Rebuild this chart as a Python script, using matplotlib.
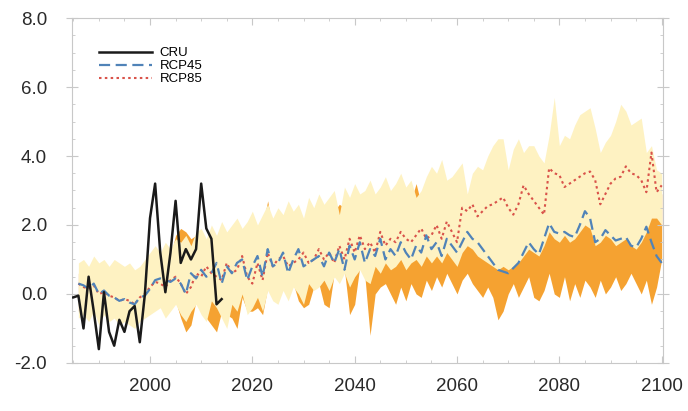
import numpy as np
import matplotlib
matplotlib.use("Agg")
from matplotlib import pyplot as plt
from matplotlib.ticker import MultipleLocator

# observed CRU anomalies, 1985-2014
cru_years = list(range(1985, 2015))
cru = [-0.1, -0.05, -1.0, 0.5, -0.5, -1.6, 0.05, -1.1, -1.5, -0.75,
       -1.1, -0.5, -0.35, -1.4, 0.0, 2.2, 3.2, 1.2, 0.05, 1.2,
       2.7, 0.9, 1.3, 1.0, 1.3, 3.2, 1.9, 1.6, -0.3, -0.15]

# model years 1986-2100
years = list(range(1986, 2101))

rcp45 = [0.3, 0.25, 0.15, 0.3, 0.0, 0.1, -0.05, -0.1, -0.2, -0.15,
         -0.25, -0.3, -0.1, -0.05, 0.15, 0.4, 0.45, 0.4, 0.35, 0.45,
         0.3, 0.0, 0.6, 0.45, 0.7, 0.5, 0.6, 0.9, 0.3, 0.8,
         0.6, 0.9, 1.0, 0.4, 0.8, 1.1, 0.5, 1.3, 0.8, 0.9,
         1.2, 0.6, 1.0, 1.3, 0.8, 0.9, 1.0, 1.1, 0.8, 1.2,
         0.9, 1.3, 0.7, 1.4, 1.0, 1.5, 0.9, 1.3, 1.1, 1.6,
         1.0, 1.3, 1.1, 1.5, 1.2, 1.0, 1.4, 1.2, 1.7, 1.3,
         1.5, 1.1, 1.6, 1.4, 1.2, 1.5, 1.8, 1.6, 1.5, 1.3,
         1.1, 0.9, 0.7, 0.65, 0.6, 0.75, 0.9, 1.2, 1.5, 1.3,
         1.15, 1.6, 2.05, 1.8, 1.75, 1.8, 1.7, 1.65, 2.0, 2.4,
         2.2, 1.5, 1.6, 1.85, 1.7, 1.55, 1.6, 1.65, 1.4, 1.35,
         1.6, 1.95, 1.5, 1.1, 0.9]

rcp85 = [0.3, 0.2, 0.15, 0.25, 0.0, 0.05, -0.05, -0.1, -0.2, -0.15,
         -0.2, -0.3, -0.1, 0.0, 0.2, 0.35, 0.3, 0.2, 0.4, 0.5,
         0.3, 0.0, 0.2, 0.6, 0.5, 0.8, 0.6, 0.5, 0.4, 0.9,
         0.6, 0.7, 1.1, 0.5, 0.3, 0.9, 0.4, 1.2, 0.8, 1.0,
         1.1, 0.8, 0.9, 1.0, 1.2, 0.9, 1.0, 1.3, 1.0, 1.2,
         0.9, 1.4, 1.0, 1.6, 1.2, 1.7, 1.3, 1.5, 1.2, 1.8,
         1.4, 1.6, 1.5, 1.8, 1.6, 1.5, 1.7, 1.9, 1.6, 1.7,
         2.0, 1.6, 2.1, 1.8, 1.5, 2.5, 2.4, 2.6, 2.25, 2.4,
         2.55, 2.6, 2.7, 2.8, 2.5, 2.3, 2.6, 3.15, 2.9, 2.7,
         2.5, 2.3, 3.65, 3.5, 3.45, 3.1, 3.2, 3.3, 3.4, 3.5,
         3.55, 3.3, 2.6, 2.9, 3.2, 3.35, 3.4, 3.7, 3.5, 3.45,
         3.3, 2.95, 4.1, 2.95, 3.15]

# RCP85 ensemble range (yellow)
rcp85_hi = [0.9, 1.0, 0.8, 1.1, 0.9, 1.0, 0.8, 1.0, 0.9, 0.8,
            0.9, 0.7, 0.8, 1.0, 1.2, 1.4, 1.2, 1.5, 1.3, 1.6,
            1.5, 1.7, 1.4, 1.8, 1.9, 1.6, 2.0, 1.7, 2.1, 1.8,
            2.0, 2.2, 1.9, 2.1, 2.4, 2.0, 2.3, 2.6, 2.2, 2.5,
            2.3, 2.7, 2.4, 2.6, 2.2, 2.8, 2.5, 2.9, 2.6, 2.8,
            3.0, 2.3, 3.1, 2.8, 3.2, 2.9, 3.0, 3.3, 2.9, 3.1,
            3.4, 3.0, 3.2, 3.5, 3.1, 3.3, 2.8, 3.0, 3.4, 3.7,
            3.5, 3.9, 3.3, 3.4, 3.6, 3.8, 2.9, 3.5, 3.7, 3.6,
            4.0, 4.3, 4.5, 4.5, 3.6, 4.2, 4.5, 4.1, 4.3, 4.3,
            4.0, 3.8, 4.6, 5.7, 4.3, 4.6, 4.5, 4.9, 5.2, 5.3,
            5.4, 4.8, 4.1, 4.4, 4.6, 5.0, 5.5, 5.3, 4.9, 5.0,
            5.1, 4.1, 4.3, 3.6, 3.5]
rcp85_lo = [-0.7, -0.6, -0.8, -0.5, -0.9, -0.6, -0.8, -0.7, -0.9, -0.8,
            -0.9, -1.0, -0.8, -0.7, -0.6, -0.5, -0.4, -0.7, -0.5, -0.3,
            -0.6, -0.8, -0.5, -0.3, -0.6, -0.8, -0.2, -0.4, -0.7, -1.0,
            -0.3, -0.5, 0.0, -0.6, -0.4, -0.1, -0.5, 0.1, -0.2, -0.3,
            0.1, -0.2, 0.2, 0.0, -0.3, 0.3, 0.1, 0.2, 0.4, 0.1,
            0.5, 0.3, 0.6, 0.2, 0.5, 0.7, 0.4, 0.3, 0.8, 0.6,
            0.9, 0.7, 0.8, 1.0, 0.7, 0.9, 1.0, 0.8, 1.1, 0.9,
            1.1, 0.9, 1.2, 1.0, 0.8, 1.2, 1.4, 1.3, 1.1, 1.0,
            0.9, 0.8, 0.7, 0.8, 0.7, 0.8, 0.9, 1.1, 1.3, 1.2,
            1.1, 1.4, 1.8, 1.6, 1.5, 1.7, 1.5, 1.6, 1.8, 2.0,
            1.9, 1.4, 1.5, 1.7, 1.6, 1.4, 1.5, 1.6, 1.4, 1.3,
            1.5, 1.8, 2.2, 2.2, 2.0]

# RCP45 ensemble range (orange)
rcp45_hi = [0.6, 0.7, 0.5, 0.8, 0.6, 0.7, 0.5, 0.7, 0.6, 0.5,
            0.6, 0.4, 0.5, 0.7, 0.9, 1.1, 1.0, 1.2, 1.1, 1.7,
            1.9, 1.8, 1.6, 1.7, 1.5, 1.3, 1.6, 1.4, 1.7, 1.5,
            1.6, 1.8, 1.6, 1.7, 1.9, 1.7, 2.0, 2.7, 1.8, 2.0,
            1.9, 2.1, 2.0, 2.2, 1.9, 2.3, 2.1, 2.4, 2.2, 2.3,
            2.4, 2.6, 2.5, 2.3, 2.6, 2.4, 2.5, 2.7, 2.4, 2.6,
            2.7, 2.5, 2.6, 2.8, 2.6, 2.7, 3.2, 2.6, 2.8, 2.9,
            2.8, 3.0, 2.7, 2.8, 2.9, 3.0, 2.6, 2.9, 3.0, 2.9,
            2.6, 2.5, 2.4, 2.6, 2.5, 2.7, 2.8, 2.9, 3.0, 2.8,
            2.9, 3.0, 3.2, 3.1, 3.0, 3.2, 3.1, 3.3, 3.2, 3.4,
            3.5, 3.2, 3.0, 3.1, 3.3, 3.2, 3.4, 3.3, 3.2, 3.1,
            3.2, 3.0, 3.1, 3.0, 2.9]
rcp45_lo = [-0.5, -0.4, -0.6, -0.4, -0.7, -0.5, -0.6, -0.5, -0.7, -0.6,
            -0.7, -0.8, -0.6, -0.5, -0.4, -0.3, -0.3, -0.5, -0.3, -0.2,
            -0.7, -1.1, -0.9, -0.2, -0.5, -0.7, -0.9, -1.1, -0.5, -0.6,
            -0.7, -1.0, -0.1, -0.5, -0.5, -0.4, -0.6, 0.2, -0.1, -0.2,
            0.2, -0.1, 0.3, -0.2, -0.4, -0.3, 0.2, 0.3, -0.3, -0.4,
            0.6, 0.4, 0.7, -0.6, -0.3, 0.8, 0.5, -1.2, 0.0, 0.2,
            0.3, 0.0, -0.3, 0.2, -0.2, 0.3, 0.0, -0.1, 0.4, 0.1,
            0.5, 0.2, 0.6, 0.3, 0.0, 0.4, 0.6, 0.3, 0.1, -0.1,
            0.2, -0.1, -0.75, -0.5, 0.0, 0.3, -0.1, 0.2, 0.5, -0.1,
            -0.2, 0.1, 0.6, 0.0, -0.1, 0.5, -0.2, 0.3, -0.1, 0.4,
            0.2, -0.1, 0.4, 0.0, 0.2, 0.5, 0.1, 0.3, 0.6, 0.3,
            0.0, 0.4, -0.3, 0.2, 1.0]

yticks = [-2.0, 0.0, 2.0, 4.0, 6.0, 8.0]
xticks = [2000, 2020, 2040, 2060, 2080, 2100]


def main():
    plt.rcParams['font.family'] = ['Liberation Sans', 'DejaVu Sans']
    fig = plt.figure(figsize=(6.88, 4.11), dpi=100)
    ax = fig.add_axes([0.105, 0.117, 0.859, 0.839])

    ax.fill_between(years, rcp45_lo, rcp45_hi, color='#f5a231', lw=0)
    ax.fill_between(years, rcp85_lo, rcp85_hi, color='#fef2c2', lw=0)

    ax.plot(years, rcp85, color='#d9534a', lw=1.5, ls=(0, (1.2, 1.6)),
            label='RCP85', zorder=3)
    ax.plot(years, rcp45, color='#5083b8', lw=1.6, ls=(0, (5, 2.5)),
            label='RCP45', zorder=4)
    ax.plot(cru_years, cru, color='#1a1a1a', lw=1.8, label='CRU', zorder=5)

    ax.set_xlim(1984.8, 2100.3)
    ax.set_ylim(-2.0, 8.0)
    ax.set_xticks(xticks)
    ax.set_yticks(yticks)
    ax.set_yticklabels(['%.1f' % v for v in yticks])
    ax.xaxis.set_minor_locator(MultipleLocator(5))
    ax.yaxis.set_minor_locator(MultipleLocator(0.5))
    ax.tick_params(which='both', direction='in', top=True, right=True,
                   color='#c8c8c8', labelsize=13.5, labelcolor='#2a2a2a')
    ax.tick_params(which='major', length=5, width=0.8)
    ax.tick_params(which='minor', length=2.5, width=0.6)
    ax.tick_params(axis='y', which='major', direction='inout', length=8,
                   pad=14)
    ax.tick_params(axis='x', which='major', pad=11)
    for s in ax.spines.values():
        s.set_color('#c8c8c8')
        s.set_linewidth(0.8)

    handles, labels = ax.get_legend_handles_labels()
    order = [2, 1, 0]
    ax.legend([handles[i] for i in order], [labels[i] for i in order],
              loc='upper left', bbox_to_anchor=(0.025, 0.95), frameon=False,
              fontsize=9.5, handlelength=4.0, labelspacing=0.05,
              handletextpad=0.6)

    fig.savefig('out.png', dpi=100)


if __name__ == "__main__":
    main()
